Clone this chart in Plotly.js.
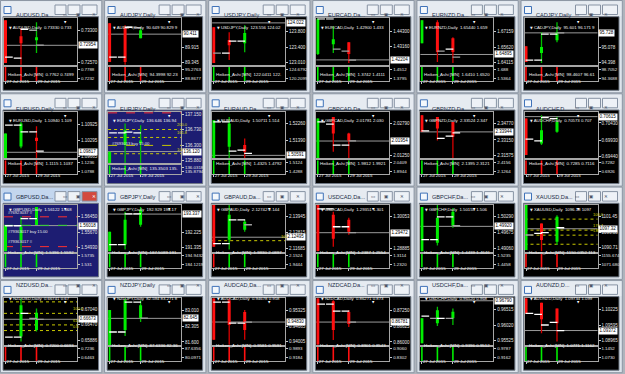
<!DOCTYPE html>
<html><head><meta charset="utf-8">
<script src="https://cdn.plot.ly/plotly-3.0.1.min.js"></script>
<style>html,body{margin:0;padding:0;background:#aeb4bc;}#chart{width:625px;height:374px;}</style>
</head><body><div id="chart"></div>
<script>
// ---------- DATA ----------
const symbols=['AUDUSD','AUDJPY','USDJPY','EURCAD','EURNZD','CADJPY','EURUSD','EURJPY','EURAUD','GBPCAD','GBPNZD','AUDCHF','GBPUSD','GBPJPY','GBPAUD','USDCAD','GBPCHF','XAUUSD','NZDUSD','NZDJPY','AUDCAD','NZDCAD','USDCHF','AUDNZD'];
const winTitles=['AUDUSD,Da...','AUDJPY,Daily','USDJPY,Daily','EURCAD,Da...','EURNZD,Da...','CADJPY,Daily','EURUSD,Daily','EURJPY,Daily','EURAUD,Da...','GBPCAD,Da...','GBPNZD,Da...','AUDCHF,D...','GBPUSD,Da...','GBPJPY,Daily','GBPAUD,Da...','USDCAD,Da...','GBPCHF,Da...','XAUUSD,Da...','NZDUSD,Da...','NZDJPY,Daily','AUDCAD,Da...','NZDCAD,Da...','USDCHF,Da...','AUDNZD,D...'];
const quoteText=['0.73330 0.733','90.649 90.829 9','123.556 124.02','1.42900 1.433','1.65440 1.659','95.601 96.171 9','1.10940 1.109','136.646 136.94','1.50711 1.514','2.01781 2.030','2.33524 2.347','0.70573 0.707','1.56122 1.568','192.929 194.17','2.12742 2.144','1.29351 1.301','1.50155 1.506','1096.18 1097','0.66741 0.67','82.594 83.271 8','0.94678 0.958','0.86271 0.873','0.96520 0.968','1.09734 1.099'];
const days=[27,28,29];
const dateTicks=[27,29];
const dateLabels=['27 Jul 2015','29 Jul 2015'];
const yLo=[0.72502,89.231,122.94,1.41831,1.63856,94.263,1.09581,135.795,1.50437,2.01128,2.3134,0.69399,1.54735,191.098,2.11474,1.28779,1.48945,1089.41,0.65723,81.47,0.93881,0.85885,0.95391,1.08792];
const yHi=[0.73574,91.017,124.14,1.45244,1.68462,96.392,1.11414,137.225,1.52885,2.0336,2.35946,0.70762,1.57038,193.885,2.14792,1.3049,1.5075,1105.58,0.67455,83.538,0.9582,0.87718,0.96871,1.10678];
const yTickText=[['0.73300','0.72570'],['89.915','89.345'],['123.800','123.400','123.010'],['1.44300','1.43160'],['1.67159','1.65620','1.64115'],['95.078','94.398'],['1.10925','1.10295','1.09665'],['137.150','136.730','136.300','135.880'],['1.52260','1.51390'],['2.02790','2.01250'],['2.34770','2.33150','2.31575'],['0.70430','0.69930','0.69440'],['1.56450','1.55670','1.54930'],['192.225','191.335'],['2.13945','2.12815','2.11685'],['1.30053','1.28885'],['1.50290','1.49675','1.49060'],['1101.45','1096.08','1090.71'],['0.67040','0.66470','0.65886'],['83.010','82.305','81.600'],['0.95325','0.94665','0.94005'],['0.87250','0.86625','0.86000'],['0.96515','0.96020','0.95525'],['1.10225','1.09595','1.08965']];
const bidText=['0.72954','90.411','124.022','1.42204','1.64895','95.728','1.09817','136.120','1.50591','2.01954','2.33944','0.70615','1.56018','193.337','2.12495','1.29472','1.49920','1097.32','0.66673','82.645','0.94830','0.86781','0.96790','1.09372'];
const haColor=['RRG','RRG','RRG','GGR','GRR','RGG','GGR','GGG','GGR','GRR','RRR','RGG','GGG','GGG','RGG','RRR','GGG','GRG','NGG','GGG','RRR','RRR','GGG','RRR'];
const haOpen=[[0.73528,0.73163,0.73072],[90.827,90.675,90.257],[123.91,123.58,123.50],[1.4263,1.43356,1.43501],[1.66012,1.6807,1.66502],[95.123,94.806,95.395],[1.0959,1.10049,1.10385],[135.80,136.298,136.345],[1.5044,1.51041,1.5113],[2.0113,2.03104,2.02315],[2.3558,2.35417,2.34927],[0.70559,0.69834,0.70171],[1.5474,1.55308,1.56043],[191.10,191.51,192.70],[2.1479,2.12321,2.13027],[1.3049,1.30126,1.29944],[1.48945,1.49291,1.49944],[1090.0,1099.18,1092.85],[null,0.66034,0.6628],[81.47,82.13,82.658],[0.9582,0.95738,0.95243],[0.8772,0.87601,0.87172],[0.95444,0.96074,0.96232],[1.1068,1.1049,1.10265]];
const haHigh=[[0.73528,0.73346,0.73482],[90.827,90.751,90.637],[123.91,123.78,123.96],[1.4524,1.44663,1.43501],[1.68266,1.68266,1.666],[95.123,95.757,96.21],[1.10556,1.11009,1.10841],[136.114,136.895,136.848],[1.52432,1.52604,1.51479],[2.03028,2.03104,2.02344],[2.3558,2.35417,2.34927],[0.70559,0.70655,0.70606],[1.56009,1.5645,1.5694],[192.284,193.47,193.767],[2.1479,2.1479,2.13733],[1.3049,1.30235,1.30017],[1.50673,1.5075,1.50635],[1105.58,1099.18,1102.03],[null,0.67455,0.67077],[83.01,83.538,83.45],[0.9582,0.9582,0.95325],[0.8772,0.8764,0.8725],[0.96232,0.96597,0.96547],[1.1068,1.1049,1.10265]];
const haLow=[[0.72548,0.7251,0.72776],[89.345,89.24,90.257],[122.99,123.07,123.27],[1.4256,1.42703,1.41977],[1.66012,1.6415,1.64052],[94.398,94.353,95.305],[1.0959,1.09971,1.0959],[135.80,135.80,135.80],[1.5044,1.5044,1.5044],[2.0113,2.01441,2.0113],[2.3395,2.33104,2.3135],[0.69495,0.69785,0.70142],[1.5474,1.5474,1.56043],[191.10,191.22,192.58],[2.11827,2.11615,2.12886],[1.2878,1.28961,1.29398],[1.48945,1.49176,1.49867],[1090.0,1089.45,1091.71],[null,0.65851,0.66218],[81.47,81.866,82.482],[0.9409,0.9389,0.9409],[0.8589,0.8608,0.86587],[0.95444,0.95989,0.9602],[1.10065,1.09263,1.08926]];
const haClose=[[0.72548,0.73004,0.73140],[89.345,89.345,90.561],[122.99,123.45,123.76],[1.4517,1.43719,1.4263],[1.68266,1.6513,1.6513],[94.398,95.078,95.757],[1.10556,1.10946,1.10256],[136.114,136.711,136.427],[1.52432,1.5226,1.5078],[2.03028,2.02315,2.01964],[2.3395,2.3428,2.33457],[0.69495,0.7022,0.70461],[1.56009,1.5596,1.5694],[192.284,192.996,193.59],[2.11827,2.14086,2.13592],[1.2880,1.29252,1.29507],[1.50673,1.50251,1.50481],[1105.58,1093.43,1101.45],[null,0.67198,0.66915],[83.01,83.45,83.23],[0.9409,0.94706,0.945],[0.8590,0.8647,0.86704],[0.96232,0.96493,0.96439],[1.10065,1.09824,1.09664]];
const barOpen=[[null,0.72662,0.733],[null,89.535,90.66],[null,123.247,123.553],[null,1.452,1.42848],[null,null,1.65424],[null,94.489,95.667],[null,1.1088,1.10619],[null,136.636,136.636],[null,1.52343,1.5087],[null,2.02757,2.01759],[null,null,2.33526],[null,0.6991,0.70559],[null,1.5601,1.5636],[null,191.51,193.35],[null,2.12038,2.13733],[null,1.30344,1.29689],[null,1.49406,1.50289],[null,1095.74,null],[null,0.66012,0.6671],[null,82.042,83.362],[null,0.95655,0.94789],[null,0.87484,0.87211],[null,0.96232,0.96232],[null,1.10024,1.09704]];
const barClose=[[0.72684,0.73323,0.72958],[89.535,90.675,null],[123.247,123.553,null],[1.452,1.42986,1.4219],[null,1.65228,1.6464],[94.489,95.667,95.728],[1.1088,1.10619,1.09866],[136.636,136.66,null],[1.52343,1.50817,1.50697],[2.02866,2.01759,2.01964],[2.34045,2.333,2.33849],[0.69959,0.70588,null],[1.5601,1.5636,null],[191.51,193.35,null],[2.12038,2.13733,2.1338],[1.30344,1.29689,1.29471],[1.49406,1.50289,1.49944],[1095.15,1095.95,1097.67],[0.66012,0.66893,0.66673],[82.042,83.362,82.658],[0.95655,0.94789,0.9483],[0.87484,0.87211,0.86782],[0.96304,0.96232,null],[1.10065,1.09595,1.09367]];
const tickColor=['WWWWGG','WWWWGG','GGWWWW','WWWGGG','WWWGWG','WWWWWG','WWWWWW','WWWWWW','WWWWWW','WWWWWG','WWWWWW','WWWWWW','WWWWWW','WWWWWW','WWWWWG','WWWWWG','WWWWWG','GGWWWW','WWWWGG','WWWWWG','WWWWWG','WWWWWG','WWGWGG','WWWWWW'];
const subText=['0.7762 0.7499','94.3998 92.23','122.0411 122.','1.3742 1.4111','1.6410 1.6520','98.4607 96.61','1.1115 1.1037','135.3503 135.','1.4325 1.4792','1.9812 1.9921','2.1395 2.3121','0.7285 0.7116','1.5396 1.5592','187.5089 191.','1.9830 2.0897','1.2387 1.2554','1.4439 1.4646','1150.0352 113','0.7200 0.6693','87.6336 82.36','0.9581 0.9591','0.8901 0.8543','0.9396 0.9512','1.0771 1.1162'];
const subTicks=[['0.7788','0.7232'],['95.2763','88.8677'],['124.6792','120.2099'],['1.4512','1.3795'],['1.688','1.5364'],['98.7052','94.3688'],['1.1236','1.0788'],['136.0318','135.8794'],['1.5124','1.4288'],['2.0409','1.8944'],['2.4156','2.1264'],['0.7282','0.6926'],['1.5735','1.531'],['194.9432','184.1219'],['2.1524','1.9444'],['1.3114','1.2320'],['1.5235','1.4458'],['1155.674','1071.680'],['0.7236','0.6463'],['87.6356','80.0971'],['0.9893','0.9184'],['0.9060','0.8302'],['0.9787','0.9162'],['1.1452','1.0730']];
const subColor=['RRR','RRR','GGG','GGG','GGG','RRR','RRR','GGG','GGG','GGG','GGG','RRR','GGG','GGG','RGG','GGG','GGG','RRR','RRR','GGG','RRR','RRR','GGG','GGG'];
const mainBottom=[65,65,65,65,65,65,65,70,65,65,65,65,65,65,65,65,65,65,65,65,65,65,65,65];
const darkPanels=[7,12];
const activePanel=12;
const fibPanel=[7,7,7,14,17,17,17,17,18,18,18,18];
const fibLevel=[136.73,136.51,136.06,2.1225,1100.66,1096.85,1095.1,1091.96,0.67319,0.66893,0.66464,0.66255];
const fibLabel=['200.0','161.8','100.0','100.0','100.0','176.4','138.2','','','100.0','61.8','0.0'];
const tradePanel=[7,7,12,12,12];
const tradeLevel=[137.19,136.29,1.5645,1.5498,1.5603];
const tradeColor=['#ff3030','#c8c800','#ff3030','#ff3030','#30d030'];
const notePanel=[7,12,12,12];
const noteLevel=[136.33,1.5667,1.5573,1.5522];
const noteText=['#7693013 buy 15.00','#76923037 ≡','#79363017 buy 15.00','#79363017 ≡'];

// ---------- BUILD ----------
const W=625,H=374;
const px=x=>x/W, py=y=>1-y/H;
const FONT='Liberation Sans, Arial, sans-serif';
const COL={R:'#ff1010',G:'#00ee00'}, WICK={R:'#d80000',G:'#00c000'};
const TCOL={W:'#ffffff',G:'#a0a0a0'};
const xr=[26.903,31.613];
const traces=[],shapes=[],annotations=[];
const layout={width:W,height:H,margin:{l:0,r:0,t:0,b:0},paper_bgcolor:'#aeb4bc',plot_bgcolor:'rgba(0,0,0,0)',showlegend:false,font:{family:FONT}};
const baseAx={showgrid:false,zeroline:false,showline:true,mirror:true,linecolor:'#a6a6a6',linewidth:1,fixedrange:true,automargin:false};
const tf=(s,c)=>({family:FONT,size:s,color:c});

for(let i=0;i<24;i++){
  const r=Math.floor(i/6),c=i%6,ox=c*104.1,oy=r*93.3;
  const mn=2*i+1,sn=2*i+2;
  const xm=mn===1?'x':'x'+mn, ym=mn===1?'y':'y'+mn, xs='x'+sn, ys='y'+sn;
  const xmK=mn===1?'xaxis':'xaxis'+mn, ymK=mn===1?'yaxis':'yaxis'+mn;
  const mb=mainBottom[i], st=mb+2;
  const dark=darkPanels.includes(i), active=i===activePanel;
  // window frame
  shapes.push({type:'rect',xref:'paper',yref:'paper',x0:px(ox+0.5),x1:px(ox+101.8),y0:py(oy+92.8),y1:py(oy+0.5),fillcolor:'#dde4ec',line:{color:'#8d97a4',width:1},layer:'below'});
  shapes.push({type:'rect',xref:'paper',yref:'paper',x0:px(ox+1.5),x1:px(ox+100.8),y0:py(oy+16),y1:py(oy+1.5),fillcolor:active?'#c3d6ee':'#e6ebf1',line:{width:0},layer:'below'});
  shapes.push({type:'rect',xref:'paper',yref:'paper',x0:px(ox+3),x1:px(ox+98.5),y0:py(oy+90.3),y1:py(oy+16.7),fillcolor:dark?'#1d1d72':'#000000',line:{color:'#6f7885',width:1},layer:'below'});
  // icon
  shapes.push({type:'rect',xref:'paper',yref:'paper',x0:px(ox+4),x1:px(ox+11),y0:py(oy+13.5),y1:py(oy+6.5),fillcolor:'#f4f8fc',line:{color:'#3f72b8',width:1},layer:'below'});
  // buttons
  [[55,66],[68,80],[82,97]].forEach((b,k)=>{
    const red=active&&k===2;
    shapes.push({type:'rect',xref:'paper',yref:'paper',x0:px(ox+b[0]),x1:px(ox+b[1]),y0:py(oy+14.5),y1:py(oy+5),fillcolor:red?'#d34a3f':'#eef2f7',line:{color:'#8793a4',width:1},layer:'below'});
    annotations.push({xref:'paper',yref:'paper',x:px(ox+(b[0]+b[1])/2),y:py(oy+9.8),text:['▭','▣','✕'][k],showarrow:false,font:{family:'DejaVu Sans',size:4.5,color:red?'#ffffff':'#4b5566'}});
  });
  // axes
  layout[xmK]={...baseAx,domain:[px(ox+4),px(ox+77)],range:xr,anchor:ym,showticklabels:false,ticks:''};
  layout[ymK]={...baseAx,domain:[py(oy+mb),py(oy+18.3)],range:[yLo[i],yHi[i]],anchor:xm,side:'right',tickmode:'array',
    tickvals:yTickText[i].map(parseFloat),ticktext:yTickText[i],ticks:'outside',ticklen:2,tickcolor:'#c8c8c8',tickfont:tf(4.5,'#e4e4e4')};
  const t1=parseFloat(subTicks[i][0]),t2=parseFloat(subTicks[i][1]),hs=81-st,s=(t1-t2)/(hs-5);
  const sLo=t2-3*s,sHi=t1+2*s;
  layout['xaxis'+sn]={...baseAx,domain:[px(ox+4),px(ox+77)],range:xr,anchor:ys,tickmode:'array',tickvals:dateTicks,ticktext:dateLabels,
    ticks:'outside',ticklen:2,tickcolor:'#c8c8c8',tickfont:tf(4.4,'#eeeeee'),tickangle:0,ticklabelposition:'outside right',ticklabelstandoff:-4};
  layout['yaxis'+sn]={...baseAx,domain:[py(oy+81),py(oy+st)],range:[sLo,sHi],anchor:xs,side:'right',tickmode:'array',
    tickvals:[t1,t2],ticktext:subTicks[i],ticks:'outside',ticklen:2,tickcolor:'#c8c8c8',tickfont:tf(4.4,'#e4e4e4')};
  // sub panel monthly HA lines
  ['R','G'].forEach(k=>{
    const X=[],Y=[];
    days.forEach((d,j)=>{if(subColor[i][j]===k){X.push(d,d,null);Y.push(sLo,sHi,null);}});
    if(X.length)traces.push({type:'scatter',mode:'lines',x:X,y:Y,xaxis:xs,yaxis:ys,line:{color:COL[k],width:1.6},hoverinfo:'skip'});
  });
  // bid line
  const bid=parseFloat(bidText[i]);
  shapes.push({type:'line',xref:xm+' domain',yref:ym,x0:0,x1:1,y0:bid,y1:bid,line:{color:'#9a9a9a',width:1},layer:'below'});
  // fib & trade lines
  fibPanel.forEach((p,k)=>{if(p===i){
    shapes.push({type:'line',xref:xm+' domain',yref:ym,x0:0,x1:1,y0:fibLevel[k],y1:fibLevel[k],line:{color:'#c9c900',width:1,dash:'dot'},layer:'below'});
    if(fibLabel[k])annotations.push({xref:'paper',yref:ym,x:px(ox+70.5),y:fibLevel[k],yanchor:'bottom',xanchor:'left',text:fibLabel[k],showarrow:false,font:tf(4,'#d6d600')});
  }});
  tradePanel.forEach((p,k)=>{if(p===i){
    shapes.push({type:'line',xref:xm+' domain',yref:ym,x0:0,x1:1,y0:tradeLevel[k],y1:tradeLevel[k],line:{color:tradeColor[k],width:1,dash:'dash'},layer:'below'});
  }});
  notePanel.forEach((p,k)=>{if(p===i){
    annotations.push({xref:'paper',yref:ym,x:px(ox+6),y:noteLevel[k],xanchor:'left',text:noteText[k],showarrow:false,font:tf(4.1,'#e8e8e8')});
  }});
  // HA candles
  ['R','G'].forEach(k=>{
    const WX=[],WY=[],BX=[],BY=[];
    days.forEach((d,j)=>{if(haColor[i][j]===k){
      WX.push(d,d,null);WY.push(haLow[i][j],haHigh[i][j],null);
      BX.push(d,d,null);BY.push(haOpen[i][j],haClose[i][j],null);
    }});
    if(WX.length){
      traces.push({type:'scatter',mode:'lines',x:WX,y:WY,xaxis:xm,yaxis:ym,line:{color:WICK[k],width:1.3},hoverinfo:'skip'});
      traces.push({type:'scatter',mode:'lines',x:BX,y:BY,xaxis:xm,yaxis:ym,line:{color:COL[k],width:3},hoverinfo:'skip'});
    }
  });
  // bar open/close ticks
  const TX=[],TY=[],TC=[];
  days.forEach((d,j)=>{
    if(barOpen[i][j]!==null){TX.push(d-0.22);TY.push(barOpen[i][j]);TC.push(TCOL[tickColor[i][2*j]]);}
    if(barClose[i][j]!==null){TX.push(d+0.22);TY.push(barClose[i][j]);TC.push(TCOL[tickColor[i][2*j+1]]);}
  });
  traces.push({type:'scatter',mode:'markers',x:TX,y:TY,xaxis:xm,yaxis:ym,marker:{symbol:'line-ew',size:5.5,color:TC,line:{color:TC,width:1.3}},hoverinfo:'skip'});
  // texts
  annotations.push({xref:'paper',yref:'paper',x:px(ox+13.5),y:py(oy+10.3),xanchor:'left',text:winTitles[i],showarrow:false,font:tf(5.6,'#1b2b45')});
  annotations.push({xref:'paper',yref:'paper',x:px(ox+7),y:py(oy+22.8),xanchor:'left',text:'<span style="font-family:DejaVu Sans;font-size:3.5px">▼</span> '+symbols[i]+',Daily  '+quoteText[i],showarrow:false,font:tf(4.3,'#f2f2f2')});
  annotations.push({xref:'paper',yref:'paper',x:px(ox+61.5),y:py(oy+18.4),yanchor:'top',text:'▼',showarrow:false,font:{family:'DejaVu Sans',size:3,color:'#ffffff'}});
  annotations.push({xref:'paper',yref:'paper',x:px(ox+6),y:py(oy+st+3.4),xanchor:'left',text:'Heiken_Ashi [MN]  '+subText[i],showarrow:false,font:tf(4.4,'#f0f0f0')});
  annotations.push({xref:'paper',yref:ym,x:px(ox+77.6),y:bid,xanchor:'left',yanchor:'middle',text:bidText[i],showarrow:false,bgcolor:'#ffffff',borderpad:0.4,font:tf(4.5,'#000000')});
}
layout.shapes=shapes;layout.annotations=annotations;
Plotly.newPlot('chart',traces,layout,{staticPlot:true,displayModeBar:false});
</script></body></html>
